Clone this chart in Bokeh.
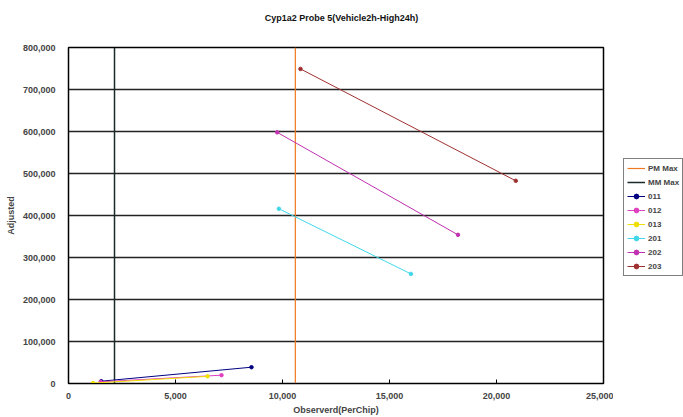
from bokeh.plotting import figure
from bokeh.layouts import row, column
from bokeh.models import Range1d, Legend, LegendItem, NumeralTickFormatter, FixedTicker, Div
from bokeh.embed import file_html
from bokeh.resources import INLINE

title_text = "Cyp1a2 Probe 5(Vehicle2h-High24h)"
x_label = "Observerd(PerChip)"
y_label = "Adjusted"

pm_max = 10600
mm_max = 2150

series_names = ["011", "012", "013", "201", "202", "203"]
series_x = [
    [1530, 8550],
    [1500, 7150],
    [1150, 6500],
    [9830, 16000],
    [9750, 18200],
    [10840, 20900],
]
series_y = [
    [5500, 38800],
    [4000, 19800],
    [1000, 17000],
    [416000, 261000],
    [598000, 354000],
    [749000, 482600],
]
series_colors = ["#000080", "#E040C0", "#F0E000", "#40D8E8", "#C030B0", "#A03030"]

x_ticks = [0, 5000, 10000, 15000, 20000, 25000]
y_ticks = [0, 100000, 200000, 300000, 400000, 500000, 600000, 700000, 800000]

FONT = "Liberation Sans"
PM_COLOR = "#F07820"
MM_COLOR = "#1a2a2a"

title_div = Div(text=title_text, width=683, height=40, margin=0,
                styles={"font-family": FONT, "font-size": "9px", "font-weight": "bold",
                        "text-align": "center", "line-height": "10px", "padding-top": "13px",
                        "color": "#111111", "width": "683px"})

p = figure(width=613, height=377, output_backend="svg", toolbar_location=None,
           x_range=Range1d(0, 25000), y_range=Range1d(0, 800000),
           min_border_left=68, min_border_right=10, min_border_top=7, min_border_bottom=34)

p.outline_line_color = "black"
p.outline_line_width = 1.5
p.background_fill_color = "white"
p.border_fill_color = "white"

p.xgrid.grid_line_color = None
p.ygrid.grid_line_color = "#222222"
p.ygrid.grid_line_width = 1.5
p.ygrid.ticker = FixedTicker(ticks=y_ticks)

for ax in (p.xaxis, p.yaxis):
    ax.axis_line_color = "black"
    ax.major_label_text_font = FONT
    ax.major_label_text_font_size = "9px"
    ax.major_label_text_font_style = "bold"
    ax.axis_label_text_font = FONT
    ax.axis_label_text_font_size = "9px"
    ax.axis_label_text_font_style = "bold"
    ax.minor_tick_line_color = None
    ax.formatter = NumeralTickFormatter(format="0,0")

p.xaxis.ticker = FixedTicker(ticks=x_ticks)
p.yaxis.ticker = FixedTicker(ticks=y_ticks)
p.xaxis.major_tick_in = 4
p.xaxis.major_tick_out = 0
p.yaxis.major_tick_in = 0
p.yaxis.major_tick_out = 0
p.xaxis.major_label_standoff = 9
p.yaxis.major_label_standoff = 13
p.xaxis.axis_label = x_label
p.yaxis.axis_label = y_label
p.xaxis.axis_label_standoff = 3
p.yaxis.axis_label_standoff = 4

p.line([pm_max, pm_max], [y_ticks[0], y_ticks[-1]], line_color=PM_COLOR, line_width=1.2)
p.line([mm_max, mm_max], [y_ticks[0], y_ticks[-1]], line_color=MM_COLOR, line_width=1.5)
for xs, ys, c in zip(series_x, series_y, series_colors):
    p.line(xs, ys, line_color=c, line_width=1)
    p.scatter(xs, ys, marker="circle", size=3.5, fill_color=c, line_color=c)

# Legend panel (separate figure to the right of the plot, same glyph styles)
lg = figure(width=70, height=377, output_backend="svg", toolbar_location=None,
            x_range=Range1d(-2, -1), y_range=Range1d(-2, -1),
            min_border=0, title=None)
lg.axis.visible = False
lg.grid.visible = False
lg.outline_line_color = None
lg.background_fill_color = "white"
lg.border_fill_color = "white"

items = []
r = lg.line([pm_max, pm_max], [y_ticks[0], y_ticks[-1]], line_color=PM_COLOR, line_width=1.2)
items.append(LegendItem(label="PM Max", renderers=[r]))
r = lg.line([mm_max, mm_max], [y_ticks[0], y_ticks[-1]], line_color=MM_COLOR, line_width=1.5)
items.append(LegendItem(label="MM Max", renderers=[r]))
for name, xs, ys, c in zip(series_names, series_x, series_y, series_colors):
    rl = lg.line(xs, ys, line_color=c, line_width=1)
    rm = lg.scatter(xs, ys, marker="circle", size=3.5, fill_color=c, line_color=c)
    items.append(LegendItem(label=name, renderers=[rl, rm]))

legend = Legend(items=items, location=(10, 107), orientation="vertical")
legend.label_text_font = FONT
legend.label_text_font_size = "8px"
legend.label_text_font_style = "bold"
legend.glyph_width = 18
legend.glyph_height = 12
legend.label_height = 12
legend.spacing = 2
legend.padding = 3
legend.margin = 0
legend.label_standoff = 3
legend.border_line_color = "black"
legend.border_line_width = 1
legend.background_fill_alpha = 1
lg.add_layout(legend, "center")

layout = column(title_div, row(p, lg, spacing=0), spacing=0)
open("out.html", "w").write(file_html(layout, INLINE))
